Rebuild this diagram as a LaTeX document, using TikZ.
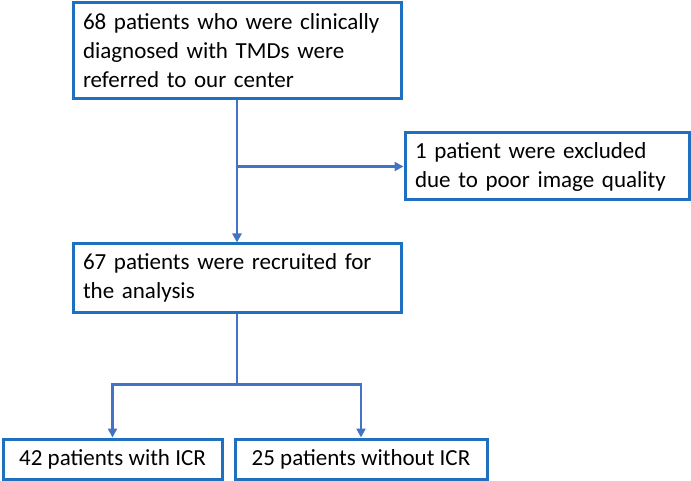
\documentclass[tikz,border=0pt]{standalone}
\usepackage{fontspec}
\setmainfont{Carlito}
\usetikzlibrary{positioning, arrows.meta}
\definecolor{boxblue}{HTML}{1F70C1}
\definecolor{linkblue}{HTML}{4472C4}
\tikzset{
  box/.style={draw=boxblue, line width=3pt, inner xsep=10pt, inner ysep=0pt, align=left, font=\fontsize{23}{29}\selectfont},
  link/.style={draw=linkblue, line width=2.5pt},
  arr/.style={link, -{Triangle[length=9pt, width=9pt]}}
}

\begin{document}
\begin{tikzpicture}[x=1pt, y=-1pt]
\useasboundingbox (0,0) rectangle (691,481);

\node (referred) [box, minimum height=96pt, minimum width=328pt, text width=308pt] at (237,51) {68 patients who were clinically\\diagnosed with TMDs were\\referred to our center};
\node (recruited) [box, minimum height=68pt, minimum width=328pt, text width=308pt, below=142pt of referred] {67 patients were recruited for\\the analysis};
\node (excluded) [box, minimum height=67pt, minimum width=284pt, text width=264pt] at (547,166.5) {1 patient were excluded\\due to poor image quality};
\node (withICR) [box, minimum height=40pt, minimum width=219pt] at (112.5,459) {42 patients with ICR};
\node (withoutICR) [box, minimum height=40pt, minimum width=252pt] at (361,459) {25 patients without ICR};

\coordinate (split) at (referred.south |- excluded.west);
\coordinate[below=71pt of recruited.south] (fork);

\draw[arr] (referred.south) -- (recruited.north);
\draw[arr] (split) -- (excluded.west);
\draw[link] (recruited.south) -- (fork);
\draw[arr] (fork) -| (withICR.north);
\draw[arr] (fork) -| (withoutICR.north);

\end{tikzpicture}
\end{document}
